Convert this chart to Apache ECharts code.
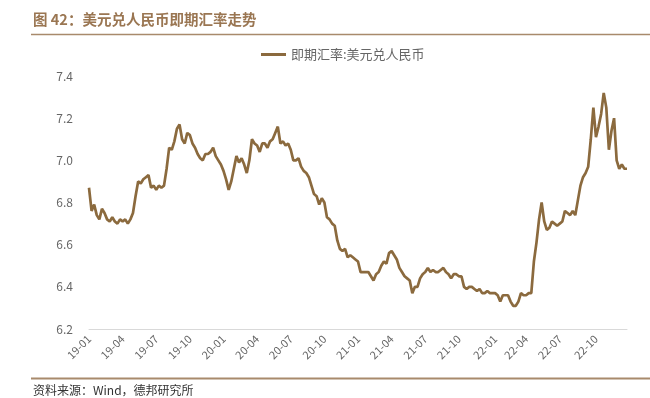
<!DOCTYPE html>
<html>
<head>
<meta charset="utf-8">
<script src="https://cdn.jsdelivr.net/npm/echarts@6/dist/echarts.min.js"></script>
<style>
  html, body { margin: 0; padding: 0; background: #fff; }
  #chart { width: 650px; height: 398px; }
</style>
</head>
<body>
<div id="chart"></div>
<script>
// 每周五的即期汇率
const rate2019 = [
  6.87, 6.76, 6.79, 6.74,
  6.72, 6.77, 6.75, 6.72,
  6.71, 6.73, 6.71, 6.70, 6.72,
  6.71, 6.72, 6.70, 6.72,
  6.75, 6.83, 6.90, 6.89, 6.91,
  6.92, 6.93, 6.87, 6.88,
  6.86, 6.88, 6.87, 6.88,
  6.96, 7.06, 7.05, 7.09, 7.15,
  7.17, 7.10, 7.08, 7.13,
  7.12, 7.08, 7.06, 7.03,
  7.01, 7.00, 7.03, 7.03, 7.04,
  7.06, 7.02, 7.00, 6.98
];
const rate2020 = [
  6.95, 6.91, 6.86, 6.90, 6.96,
  7.02, 6.99, 7.01, 6.98,
  6.94, 7.00, 7.10, 7.08,
  7.07, 7.04, 7.08, 7.08,
  7.06, 7.09, 7.10, 7.13, 7.16,
  7.08, 7.09, 7.07, 7.08,
  7.05, 7.00, 7.00, 7.01, 6.97,
  6.95, 6.94, 6.92, 6.88,
  6.84, 6.83, 6.79, 6.82,
  6.80, 6.73, 6.72, 6.70, 6.69,
  6.62, 6.58, 6.57, 6.58,
  6.54, 6.55, 6.54, 6.53
];
const rate2021 = [
  6.52, 6.47, 6.47, 6.47, 6.47,
  6.45, 6.43, 6.46, 6.47,
  6.50, 6.52, 6.51, 6.56,
  6.57, 6.55, 6.53, 6.49, 6.47,
  6.45, 6.44, 6.43, 6.37,
  6.40, 6.40, 6.44, 6.46,
  6.47, 6.49, 6.47, 6.48, 6.47,
  6.47, 6.48, 6.49, 6.47,
  6.46, 6.44, 6.46, 6.46,
  6.45, 6.45, 6.40, 6.39, 6.40,
  6.40, 6.39, 6.38, 6.39,
  6.37, 6.37, 6.38, 6.37, 6.37
];
const rate2022 = [
  6.37, 6.36, 6.33, 6.36,
  6.36, 6.36, 6.33, 6.31,
  6.31, 6.33, 6.37, 6.36,
  6.36, 6.37, 6.37, 6.52, 6.61,
  6.72, 6.80, 6.71, 6.67,
  6.68, 6.71, 6.70, 6.69,
  6.70, 6.71, 6.76, 6.75, 6.74,
  6.76, 6.74, 6.81, 6.88,
  6.92, 6.94, 6.97, 7.10, 7.25,
  7.11, 7.16, 7.22, 7.32,
  7.25, 7.05, 7.14, 7.20,
  7.00, 6.96, 6.98, 6.96, 6.96
];
const rates = [].concat(rate2019, rate2020, rate2021, rate2022);

// 周五日期：2019-01-04 起，每周一个
const firstFriday = '2019-01-04';
const dates = [];
(function () {
  const d = new Date(firstFriday + 'T00:00:00Z');
  for (let i = 0; i < rates.length; i++) {
    dates.push(d.toISOString().slice(0, 10));
    d.setUTCDate(d.getUTCDate() + 7);
  }
})();

const tickMonths = ['01', '04', '07', '10'];
const yTicks = { min: 6.2, max: 7.4, step: 0.2 };
const seriesName = '即期汇率:美元兑人民币';
const titleText = '图 42：美元兑人民币即期汇率走势';
const sourceText = '资料来源：Wind，德邦研究所';

// 每季度第一个周五显示标签
function isQuarterStart(idx) {
  const cur = dates[idx];
  if (tickMonths.indexOf(cur.slice(5, 7)) < 0) return false;
  return idx === 0 || dates[idx - 1].slice(5, 7) !== cur.slice(5, 7);
}

const chart = echarts.init(document.getElementById('chart'));
const brown = '#8B6A3E';
const titleBrown = '#9A7652';
const font = '"Noto Sans CJK SC", "DejaVu Sans", sans-serif';

chart.setOption({
  animation: false,
  backgroundColor: '#fff',
  textStyle: { fontFamily: font },
  graphic: [
    {
      type: 'text', left: 33, top: 12,
      style: { text: titleText, fill: titleBrown, font: 'bold 14.5px ' + font }
    },
    {
      type: 'line', shape: { x1: 31, y1: 34.5, x2: 650, y2: 34.5 },
      style: { stroke: '#A88A6C', lineWidth: 1.5 }
    },
    {
      type: 'line', shape: { x1: 31, y1: 378.5, x2: 650, y2: 378.5 },
      style: { stroke: '#A88A6C', lineWidth: 2 }
    },
    {
      type: 'text', left: 33, top: 384,
      style: { text: sourceText, fill: '#333', font: '12px ' + font }
    }
  ],
  legend: {
    top: 43,
    left: 256,
    itemWidth: 25,
    itemHeight: 3,
    icon: 'rect',
    itemGap: 5,
    textStyle: { color: '#666', fontSize: 13, fontFamily: font },
    data: [seriesName]
  },
  grid: { left: 89, right: 23, top: 76, bottom: 69, containLabel: false },
  xAxis: {
    type: 'category',
    data: dates,
    boundaryGap: false,
    axisLine: { lineStyle: { color: '#D9D9D9', width: 1 } },
    axisTick: { show: false },
    axisLabel: {
      interval: isQuarterStart,
      rotate: 45,
      margin: 8,
      color: '#666',
      fontSize: 11,
      fontFamily: font,
      formatter: (v) => v.slice(2, 4) + '-' + v.slice(5, 7)
    },
    splitLine: { show: false }
  },
  yAxis: {
    type: 'value',
    min: yTicks.min,
    max: yTicks.max,
    interval: yTicks.step,
    axisLine: { show: false },
    axisTick: { show: false },
    splitLine: { show: false },
    axisLabel: {
      margin: 16,
      color: '#666',
      fontSize: 12,
      fontFamily: font,
      formatter: (v) => v.toFixed(1)
    }
  },
  series: [
    {
      name: seriesName,
      type: 'line',
      data: rates,
      showSymbol: false,
      lineStyle: { color: brown, width: 2.7 },
      itemStyle: { color: brown }
    }
  ]
});
</script>
</body>
</html>
